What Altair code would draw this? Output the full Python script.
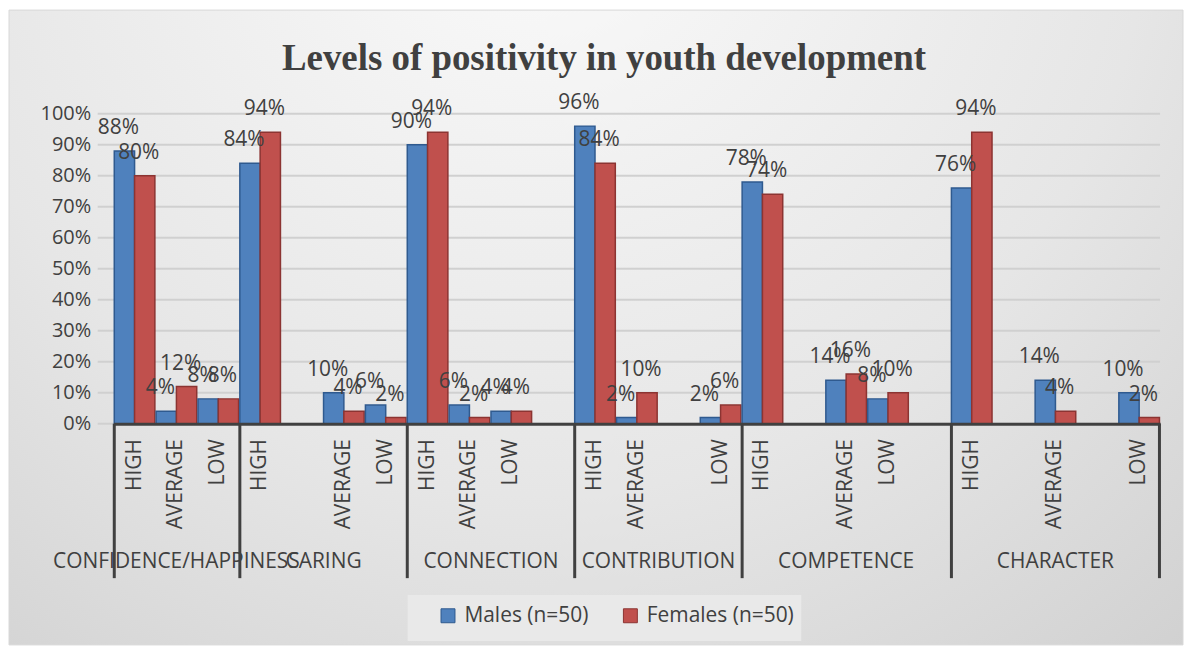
import altair as alt
import pandas as pd

# ---------------- data ----------------
title_text = "Levels of positivity in youth development"
groups = ["CONFIDENCE/HAPPINESS", "CARING", "CONNECTION", "CONTRIBUTION", "COMPETENCE", "CHARACTER"]
# category slots per group ("" = empty slot in the original sheet)
slot_labels = [
    ["HIGH", "AVERAGE", "LOW"],
    ["HIGH", "", "AVERAGE", "LOW"],
    ["HIGH", "AVERAGE", "LOW", ""],
    ["HIGH", "AVERAGE", "", "LOW"],
    ["HIGH", "", "AVERAGE", "LOW", ""],
    ["HIGH", "", "AVERAGE", "", "LOW"],
]
series = ["Males (n=50)", "Females (n=50)"]
males = [[88, 4, 8], [84, 10, 6], [90, 6, 4], [96, 2, 2], [78, 14, 8], [76, 14, 10]]
females = [[80, 12, 8], [94, 4, 2], [94, 2, 4], [84, 10, 6], [74, 16, 10], [94, 4, 2]]
y_ticks = [0, 10, 20, 30, 40, 50, 60, 70, 80, 90, 100]

# ---------------- build tables ----------------
slot_keys = []
rows = []
grp_rows = []
div_rows = []
for gi, g in enumerate(groups):
    labs = slot_labels[gi]
    vi = 0
    keys = []
    for si, lab in enumerate(labs):
        key = f"{gi}|{si}|{lab}"
        keys.append(key)
        slot_keys.append(key)
        if lab:
            for s, vals in zip(series, [males, females]):
                v = vals[gi][vi]
                rows.append({"slot": key, "sex": s, "value": v, "label": f"{v}%"})
            vi += 1
    n = len(labs)
    grp_rows.append({"group": g, "anchor": keys[n // 2], "even": n % 2 == 0})
    div_rows.append({"slot": keys[0], "end": False})
    if gi == len(groups) - 1:
        div_rows.append({"slot": keys[-1], "end": True})

df = pd.DataFrame(rows)
gdf = pd.DataFrame(grp_rows)
ddf = pd.DataFrame(div_rows)
tdf = pd.DataFrame({"tick": y_ticks})
one = pd.DataFrame({"t": [title_text]})

W, H = 1050, 311
FONT = "Open Sans"
TXT = "#404040"
FS = 21

xscale = alt.Scale(domain=slot_keys, paddingInner=0.03, paddingOuter=0.015)
yscale = alt.Scale(domain=[0, 100], nice=False)
cscale = alt.Scale(domain=series, range=["#4f81bd", "#c0504d"])
sscale = alt.Scale(domain=series, range=["#2f5a8f", "#8c3432"])
oscale = alt.Scale(domain=series, paddingInner=0)

bg = alt.Chart(one).mark_rect(
    color=alt.RadialGradient(
        gradient="radial",
        stops=[alt.GradientStop(color="#fbfbfb", offset=0),
               alt.GradientStop(color="#e6e6e6", offset=0.55),
               alt.GradientStop(color="#cbcbcb", offset=1)],
        x1=0.45, y1=0.12, r1=0, x2=0.45, y2=0.12, r2=0.95),
    stroke="#d9d9d9",
).encode(x=alt.value(-105), x2=alt.value(1073), y=alt.value(-104), y2=alt.value(533))

legend_box = alt.Chart(one).mark_rect(color="#e9e9e9").encode(
    x=alt.value(295), x2=alt.value(690), y=alt.value(483), y2=alt.value(529))

title = alt.Chart(one).mark_text(
    font="Liberation Serif", fontSize=37, fontWeight="bold", color=TXT, baseline="alphabetic"
).encode(text="t:N", x=alt.value(492), y=alt.value(-44))

yaxis = alt.Axis(title=None, values=y_ticks, labelExpr="datum.value + '%'",
                 labelFont=FONT, labelFontSize=20, labelColor=TXT, labelPadding=23,
                 ticks=False, domain=False, grid=False, labelOverlap=False, zindex=1)

grid = alt.Chart(tdf).mark_rule(color="#d0d0d0", strokeWidth=2).encode(
    y=alt.Y("tick:Q", scale=yscale, axis=yaxis), x=alt.value(-16), x2=alt.value(W))

bars = alt.Chart(df).mark_bar(strokeWidth=1.5).encode(
    x=alt.X("slot:N", scale=xscale, sort=slot_keys,
            axis=alt.Axis(title=None, labelExpr="split(datum.value, '|')[2]", labelAngle=270,
                          labelFont=FONT, labelFontSize=FS, labelColor=TXT, labelPadding=15,
                          ticks=False, domainColor=TXT, domainWidth=3, labelLimit=200,
                          labelOverlap=False, zindex=1)),
    xOffset=alt.XOffset("sex:N", sort=series, scale=oscale),
    y=alt.Y("value:Q", scale=yscale, axis=yaxis),
    color=alt.Color("sex:N", scale=cscale, sort=series,
                    legend=alt.Legend(title=None, orient="none", legendX=325, legendY=493,
                                      direction="horizontal", symbolType="square", symbolSize=196,
                                      symbolStrokeWidth=1, labelFont=FONT, labelFontSize=FS,
                                      labelColor=TXT, columnPadding=31, labelOffset=6, padding=0,
                                      zindex=1)),
    stroke=alt.Stroke("sex:N", scale=sscale, legend=None),
)

labels = alt.Chart(df).mark_text(font=FONT, fontSize=FS, color=TXT, dy=-23, dx=-6).encode(
    x=alt.X("slot:N", scale=xscale, sort=slot_keys),
    xOffset=alt.XOffset("sex:N", sort=series, scale=oscale),
    y=alt.Y("value:Q", scale=yscale, axis=yaxis),
    text="label:N",
)

div_start = alt.Chart(ddf).transform_filter("!datum.end").mark_rule(color=TXT, strokeWidth=3).encode(
    x=alt.X("slot:N", scale=xscale, bandPosition=0), y=alt.value(H), y2=alt.value(H + 155))
div_end = alt.Chart(ddf).transform_filter("datum.end").mark_rule(color=TXT, strokeWidth=3).encode(
    x=alt.X("slot:N", scale=xscale, bandPosition=1), y=alt.value(H), y2=alt.value(H + 155))

glab_odd = alt.Chart(gdf).transform_filter("!datum.even").mark_text(
    font=FONT, fontSize=FS, color=TXT, baseline="middle").encode(
    x=alt.X("anchor:N", scale=xscale, bandPosition=0.5), y=alt.value(H + 139), text="group:N")
glab_even = alt.Chart(gdf).transform_filter("datum.even").mark_text(
    font=FONT, fontSize=FS, color=TXT, baseline="middle").encode(
    x=alt.X("anchor:N", scale=xscale, bandPosition=0), y=alt.value(H + 139), text="group:N")

chart = alt.layer(
    bg, legend_box, title, grid, bars, labels, div_start, div_end, glab_odd, glab_even
).properties(width=W, height=H, padding=0).configure_view(stroke=None)

chart.save("out.html", embed_options={"renderer": "svg", "actions": False})
